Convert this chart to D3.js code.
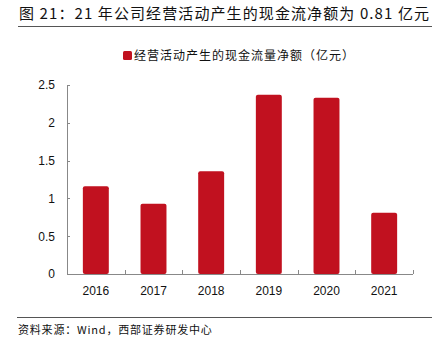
<!DOCTYPE html>
<html lang="zh">
<head>
<meta charset="UTF-8">
<title>经营活动产生的现金流量净额</title>
<script src="https://d3js.org/d3.v7.min.js"></script>
<style>
  body { margin: 0; background: #fff; }
  svg text { font-family: "Liberation Sans", Arial, "Noto Sans CJK SC", sans-serif; fill: #111; }
  .cjk { font-family: "Noto Sans CJK SC", sans-serif; }
  .axis path, .axis line { stroke: #888; shape-rendering: crispEdges; }
  .axis text { font-size: 12px; fill: #111; }
</style>
</head>
<body>
<script>
  const years = ["2016", "2017", "2018", "2019", "2020", "2021"];
  const cashFlow = [1.16, 0.93, 1.36, 2.37, 2.33, 0.81];
  const yTicks = [0, 0.5, 1, 1.5, 2, 2.5];

  const W = 444, H = 351;
  const plot = { left: 67, right: 413, top: 85, bottom: 274 };

  const svg = d3.select("body").append("svg")
    .attr("width", W).attr("height", H);

  // title
  svg.append("text")
    .attr("class", "cjk")
    .attr("x", 19).attr("y", 19)
    .attr("font-size", 15)
    .attr("letter-spacing", 1.1)
    .text("图 21：21 年公司经营活动产生的现金流净额为 0.81 亿元");

  svg.append("line")
    .attr("x1", 18).attr("x2", 432)
    .attr("y1", 26.5).attr("y2", 26.5)
    .attr("stroke", "#555").attr("stroke-width", 1);

  // legend
  svg.append("rect")
    .attr("x", 123).attr("y", 51).attr("width", 9).attr("height", 9)
    .attr("rx", 1.5)
    .attr("fill", "#c1111f");
  svg.append("text")
    .attr("class", "cjk")
    .attr("x", 134).attr("y", 60)
    .attr("font-size", 12)
    .attr("letter-spacing", 1)
    .text("经营活动产生的现金流量净额（亿元）");

  const x = d3.scaleBand()
    .domain(years)
    .range([plot.left, plot.right])
    .paddingInner(0.55)
    .paddingOuter(0.275);

  const y = d3.scaleLinear()
    .domain([0, 2.5])
    .range([plot.bottom, plot.top]);

  // bars
  svg.append("g")
    .selectAll("rect")
    .data(years)
    .join("rect")
    .attr("x", d => x(d))
    .attr("width", x.bandwidth())
    .attr("y", (d, i) => y(cashFlow[i]))
    .attr("height", (d, i) => y(0) - y(cashFlow[i]))
    .attr("rx", 2)
    .attr("fill", "#c1111f");

  // y axis
  const yAxis = svg.append("g")
    .attr("class", "axis")
    .attr("transform", `translate(${plot.left},0)`)
    .call(d3.axisLeft(y).tickValues(yTicks).tickSize(-3).tickPadding(12)
      .tickFormat(d => d3.format("")(d)));
  yAxis.select(".domain").attr("d", `M0.5,${plot.top}V${plot.bottom}`);

  // x axis with inward ticks between categories
  const xAxis = svg.append("g")
    .attr("class", "axis")
    .attr("transform", `translate(0,${plot.bottom})`);
  xAxis.append("path")
    .attr("d", `M${plot.left},0.5H${plot.right}`)
    .attr("fill", "none");
  const step = x.step();
  const boundaries = d3.range(1, years.length + 1).map(i => plot.left + step * i);
  xAxis.selectAll(".bt")
    .data(boundaries)
    .join("line")
    .attr("x1", d => Math.round(d) + 0.5).attr("x2", d => Math.round(d) + 0.5)
    .attr("y1", 0).attr("y2", -4);
  xAxis.selectAll(".xl")
    .data(years)
    .join("text")
    .attr("x", d => x(d) + x.bandwidth() / 2)
    .attr("y", 21)
    .attr("text-anchor", "middle")
    .text(d => d);

  // source
  svg.append("line")
    .attr("x1", 17).attr("x2", 432)
    .attr("y1", 317.5).attr("y2", 317.5)
    .attr("stroke", "#555").attr("stroke-width", 1);
  svg.append("text")
    .attr("class", "cjk")
    .attr("x", 18).attr("y", 334)
    .attr("font-size", 11)
    .attr("letter-spacing", 0.8)
    .text("资料来源：Wind，西部证券研发中心");
</script>
</body>
</html>
